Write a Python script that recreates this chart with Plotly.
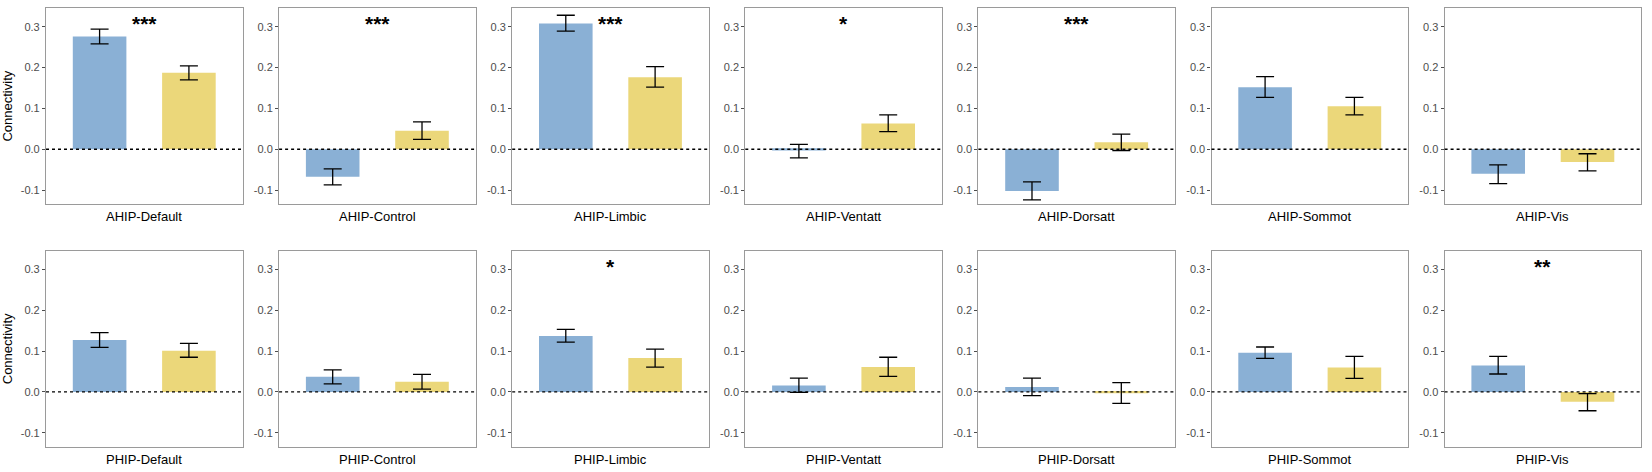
import plotly.graph_objects as go

networks = ["Default", "Control", "Limbic", "Ventatt", "Dorsatt", "Sommot", "Vis"]
rows = ["AHIP", "PHIP"]

ahip_blue_mean = [0.276, -0.067, 0.308, -0.003, -0.102, 0.152, -0.060]
ahip_blue_upper = [0.294, -0.048, 0.328, 0.012, -0.080, 0.178, -0.038]
ahip_blue_lower = [0.258, -0.087, 0.289, -0.021, -0.124, 0.127, -0.084]
ahip_yellow_mean = [0.187, 0.045, 0.176, 0.063, 0.017, 0.105, -0.031]
ahip_yellow_upper = [0.204, 0.067, 0.202, 0.084, 0.037, 0.127, -0.011]
ahip_yellow_lower = [0.170, 0.024, 0.152, 0.043, -0.003, 0.084, -0.053]

phip_blue_mean = [0.127, 0.037, 0.137, 0.016, 0.012, 0.096, 0.065]
phip_blue_upper = [0.145, 0.054, 0.153, 0.034, 0.034, 0.110, 0.087]
phip_blue_lower = [0.109, 0.020, 0.122, -0.001, -0.009, 0.082, 0.044]
phip_yellow_mean = [0.101, 0.025, 0.083, 0.061, -0.003, 0.060, -0.024]
phip_yellow_upper = [0.119, 0.043, 0.105, 0.085, 0.023, 0.087, -0.004]
phip_yellow_lower = [0.085, 0.007, 0.061, 0.038, -0.028, 0.033, -0.046]

ahip_stars = ["***", "***", "***", "*", "***", "", ""]
phip_stars = ["", "", "*", "", "", "", "**"]

y_ticks = [-0.1, 0.0, 0.1, 0.2, 0.3]
y_tick_labels = ["-0.1", "0.0", "0.1", "0.2", "0.3"]

BLUE = "#8AB0D5"
YELLOW = "#EBD77A"
W, H = 1652, 472
FONT = "Liberation Sans"

data_rows = [
    (ahip_blue_mean, ahip_blue_upper, ahip_blue_lower,
     ahip_yellow_mean, ahip_yellow_upper, ahip_yellow_lower, ahip_stars),
    (phip_blue_mean, phip_blue_upper, phip_blue_lower,
     phip_yellow_mean, phip_yellow_upper, phip_yellow_lower, phip_stars),
]

row_px = [(8.3, 204.0), (251.0, 446.7)]
fig = go.Figure()
annotations = []
shapes = []
layout = {}

for r, rowname in enumerate(rows):
    bm, bu, bl, ym, yu, yl, stars = data_rows[r]
    top, bot = row_px[r]
    ydom = [1 - bot / H, 1 - top / H]
    for c, net in enumerate(networks):
        idx = r * 7 + c + 1
        sfx = "" if idx == 1 else str(idx)
        left = 46 + 233.1 * c
        right = left + 196.5
        xdom = [left / W, right / W]
        for xv, m, u, l, col in [(1, bm[c], bu[c], bl[c], BLUE),
                                 (2, ym[c], yu[c], yl[c], YELLOW)]:
            fig.add_trace(go.Bar(
                x=[xv], y=[m], width=0.6,
                marker=dict(color=col, line=dict(width=0)),
                error_y=dict(type="data", symmetric=False,
                             array=[u - m], arrayminus=[m - l],
                             color="black", thickness=1.3, width=9),
                xaxis="x" + sfx, yaxis="y" + sfx,
                showlegend=False, hoverinfo="skip",
            ))
        layout["xaxis" + sfx] = dict(
            domain=xdom, range=[0.4, 2.6], anchor="y" + sfx,
            showticklabels=False, ticks="", showgrid=False, zeroline=False,
            showline=True, mirror=True, linecolor="#9a9a9a", linewidth=1.2,
            fixedrange=True,
        )
        layout["yaxis" + sfx] = dict(
            domain=ydom, range=[-0.134, 0.345], anchor="x" + sfx,
            tickvals=y_ticks, ticktext=y_tick_labels,
            ticks="outside", ticklen=3, tickwidth=1, tickcolor="#4d4d4d",
            tickfont=dict(family=FONT, size=11, color="#4d4d4d"),
            showgrid=False, zeroline=False,
            showline=True, mirror=True, linecolor="#9a9a9a", linewidth=1.2,
            fixedrange=True,
        )
        if c == 0:
            layout["yaxis" + sfx]["title"] = dict(
                text="Connectivity", font=dict(family=FONT, size=13, color="black"),
                standoff=6)
        shapes.append(dict(
            type="line", xref="x" + sfx + " domain", yref="y" + sfx,
            x0=0, x1=1, y0=0, y1=0,
            line=dict(color="black", width=1.3, dash="dot"), layer="above",
        ))
        annotations.append(dict(
            text=rowname + "-" + net, xref="paper", yref="paper",
            x=(xdom[0] + xdom[1]) / 2, y=ydom[0], yshift=-3,
            xanchor="center", yanchor="top", showarrow=False,
            font=dict(family=FONT, size=13, color="black"),
        ))
        if stars[c]:
            annotations.append(dict(
                text="<b>" + stars[c] + "</b>", xref="x" + sfx, yref="y" + sfx,
                x=1.5, y=0.319, xanchor="center", yanchor="middle", yshift=-5,
                showarrow=False,
                font=dict(family=FONT, size=21, color="black"),
            ))

fig.update_layout(
    width=W, height=H, margin=dict(l=0, r=0, t=0, b=0),
    paper_bgcolor="white", plot_bgcolor="white",
    annotations=annotations, shapes=shapes, barmode="overlay",
    **layout,
)
fig.write_html(
    "out.html",
    config={"displayModeBar": False},
    post_script="document.body.style.margin='0';document.body.style.padding='0';"
                "document.documentElement.style.overflow='hidden';",
)
